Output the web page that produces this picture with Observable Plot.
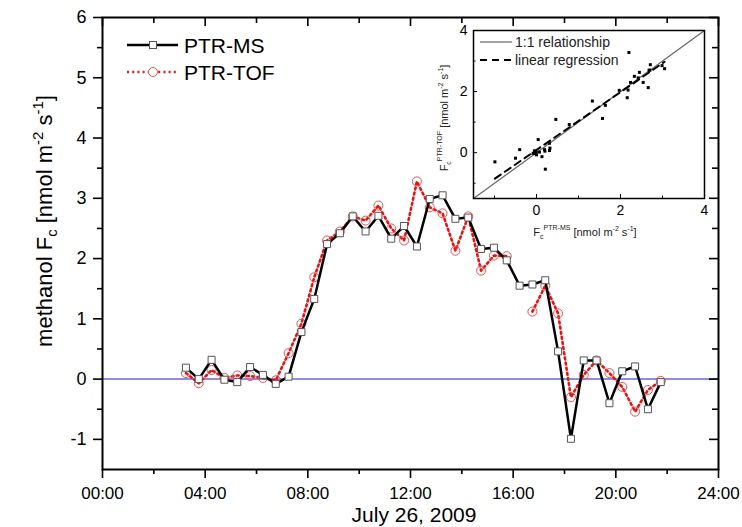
<!DOCTYPE html>
<html><head><meta charset="utf-8">
<script src="https://cdn.jsdelivr.net/npm/d3@7"></script>
<script src="https://cdn.jsdelivr.net/npm/@observablehq/plot@0.6"></script>
<style>
body{margin:0;background:white;}
#wrap{position:relative;width:742px;height:527px;overflow:hidden;}
</style></head><body><div id="wrap"></div>
<script>
// ---- data ----
const hours = [3.25,3.75,4.25,4.75,5.25,5.75,6.25,6.75,7.25,7.75,8.25,8.75,9.25,9.75,10.25,10.75,11.25,11.75,12.25,12.75,13.25,13.75,14.25,14.75,15.25,15.75,16.25,16.75,17.25,17.75,18.25,18.75,19.25,19.75,20.25,20.75,21.25,21.75];
const ptrMS = [0.19,0.00,0.32,-0.01,-0.05,0.20,0.07,-0.08,0.04,0.78,1.33,2.24,2.42,2.70,2.45,2.71,2.33,2.54,2.20,2.99,3.05,2.66,2.68,2.16,2.18,1.97,1.55,1.57,1.64,0.46,-0.99,0.31,0.31,-0.40,0.13,0.21,-0.50,-0.05];
const ptrTOF = [0.10,-0.07,0.15,0.02,0.06,0.05,0.02,-0.02,0.43,0.92,1.69,2.30,2.45,2.70,2.63,2.88,2.50,2.30,3.28,2.85,2.75,2.13,2.70,1.80,2.05,2.04,null,1.12,1.55,1.09,-0.30,0.07,0.31,0.10,-0.13,-0.54,-0.18,-0.03];
const xMajor = [0,4,8,12,16,20,24];
const xTickLabels = ["00:00","04:00","08:00","12:00","16:00","20:00","24:00"];
const xMinor = [2,6,10,14,18,22];
const yMajor = [-1,0,1,2,3,4,5,6];
const yTickLabels = ["-1","0","1","2","3","4","5","6"];
const yMinor = [-0.5,0.5,1.5,2.5,3.5,4.5,5.5];
const xDomain = [0,24];
const yDomain = [-1.5,6];
const insetDomain = [-1.5,4];
const insetMajor = [0,2,4];
const insetMinor = [-1,1,3];
const seriesNames = ["PTR-MS","PTR-TOF"];
const insetKeys = ["1:1 relationship","linear regression"];
const xLabel = "July 26, 2009";

const rows = hours.map((t,i)=>({t, ms: ptrMS[i], tof: ptrTOF[i]}));
const pairs = rows.filter(d => d.tof != null);

const FONT = "'Liberation Sans', Arial, Helvetica, sans-serif";
const wrap = document.getElementById("wrap");

// ---- main chart ----
const W=742,H=527,mL=102,mR=24,mT=17,mB=58;
const innerW = W-mL-mR, innerH = H-mT-mB;
const main = Plot.plot({
  width:W,height:H,marginLeft:mL,marginRight:mR,marginTop:mT,marginBottom:mB,
  style:{fontFamily:FONT, background:"white", color:"black", overflow:"visible"},
  x:{domain:xDomain}, y:{domain:yDomain},
  marks:[
    Plot.ruleY([0],{stroke:"#6464f4",strokeWidth:1.5}),
    Plot.line(rows,{x:"t",y:"tof",stroke:"#ee1111",strokeWidth:2.6,strokeDasharray:"2,3.2"}),
    Plot.dot(rows,{x:"t",y:"tof",r:4.5,stroke:"#ee5050",fill:"none",strokeWidth:1}),
    Plot.line(rows,{x:"t",y:"ms",stroke:"black",strokeWidth:2.5}),
    Plot.dot(rows,{x:"t",y:"ms",symbol:"square",r:3.95,fill:"white",stroke:"#555",strokeWidth:1}),
    Plot.axisX({ticks:xMajor,tickSize:9,tickPadding:8,fontSize:17,strokeWidth:1.6,label:null,
      tickFormat:d=>xTickLabels[xMajor.indexOf(d)]}),
    Plot.axisX({ticks:xMinor,tickSize:5,strokeWidth:1.6,label:null,tickFormat:()=>""}),
    Plot.axisY({ticks:yMajor,tickSize:9,tickPadding:7,fontSize:18,strokeWidth:1.6,label:null,
      tickFormat:d=>yTickLabels[yMajor.indexOf(d)]}),
    Plot.axisY({ticks:yMinor,tickSize:5,strokeWidth:1.6,label:null,tickFormat:()=>""}),
    // mirrored inward ticks (top / right)
    Plot.tickX(xMajor,{x:d=>d,insetBottom:innerH-9,stroke:"black",strokeWidth:1.6}),
    Plot.tickX(xMinor,{x:d=>d,insetBottom:innerH-6,stroke:"black",strokeWidth:1.6}),
    Plot.tickY(yMajor,{y:d=>d,insetLeft:innerW-9,stroke:"black",strokeWidth:1.6}),
    Plot.tickY(yMinor,{y:d=>d,insetLeft:innerW-6,stroke:"black",strokeWidth:1.6}),
    Plot.frame({stroke:"black",strokeWidth:2})
  ]
});
main.style.position="absolute"; main.style.left="0px"; main.style.top="0px";
wrap.appendChild(main);

const s = d3.select(main);
// y label
const yl = s.append("text").attr("transform","translate(52,221) rotate(-90)")
  .attr("text-anchor","middle").attr("font-size",22).attr("font-family",FONT).attr("fill","black");
yl.append("tspan").text("methanol F");
yl.append("tspan").attr("font-size",15).attr("dy",5).text("c");
yl.append("tspan").attr("dy",-5).text(" [nmol m");
yl.append("tspan").attr("font-size",15).attr("dy",-9).text("-2");
yl.append("tspan").attr("dy",9).text(" s");
yl.append("tspan").attr("font-size",15).attr("dy",-9).text("-1");
yl.append("tspan").attr("dy",9).text("]");
// x label
s.append("text").attr("x",414).attr("y",522).attr("text-anchor","middle")
  .attr("font-size",21).attr("font-family",FONT).attr("fill","black").text(xLabel);
// legend
const lg = s.append("g").attr("font-family",FONT).attr("font-size",21).attr("text-anchor","start");
lg.append("line").attr("x1",127).attr("x2",178).attr("y1",45).attr("y2",45).attr("stroke","black").attr("stroke-width",2.5);
lg.append("rect").attr("x",149.5).attr("y",41.5).attr("width",7).attr("height",7).attr("fill","white").attr("stroke","#555");
lg.append("text").attr("x",184).attr("y",45).attr("dy","0.36em").attr("text-anchor","start").text(seriesNames[0]);
lg.append("line").attr("x1",127).attr("x2",178).attr("y1",72).attr("y2",72).attr("stroke","#ee1111").attr("stroke-width",2.4).attr("stroke-dasharray","2,3.2");
lg.append("circle").attr("cx",153).attr("cy",72).attr("r",4.5).attr("fill","white").attr("stroke","#ee5050");
lg.append("text").attr("x",184).attr("y",72).attr("dy","0.36em").attr("text-anchor","start").text(seriesNames[1]);

// ---- inset ----
const iW=276,iH=223,iL=40,iR=5,iT=5,iB=50;
const iInW=iW-iL-iR, iInH=iH-iT-iB;
const inset = Plot.plot({
  width:iW,height:iH,marginLeft:iL,marginRight:iR,marginTop:iT,marginBottom:iB,
  style:{fontFamily:FONT, background:"transparent", color:"black", overflow:"visible"},
  x:{domain:insetDomain}, y:{domain:insetDomain},
  marks:[
    Plot.line(insetDomain,{x:d=>d,y:d=>d,stroke:"#666",strokeWidth:1.2}),
    Plot.linearRegressionY(pairs,{x:"ms",y:"tof",stroke:"black",strokeWidth:2,strokeDasharray:"7,5",ci:0}),
    Plot.dot(pairs,{x:"ms",y:"tof",symbol:"square",r:1.7,fill:"black"}),
    Plot.axisX({ticks:insetMajor,tickSize:0,tickPadding:7,fontSize:14,label:null,tickFormat:d=>String(d)}),
    Plot.axisY({ticks:insetMajor,tickSize:0,tickPadding:6,fontSize:14,label:null,tickFormat:d=>String(d)}),
    Plot.tickX(insetMajor,{x:d=>d,insetTop:iInH-4,stroke:"black"}),
    Plot.tickX(insetMinor,{x:d=>d,insetTop:iInH-2.5,stroke:"black"}),
    Plot.tickY(insetMajor,{y:d=>d,insetRight:iInW-4,stroke:"black"}),
    Plot.tickY(insetMinor,{y:d=>d,insetRight:iInW-2.5,stroke:"black"}),
    Plot.frame({stroke:"black",strokeWidth:1.5})
  ]
});
inset.style.position="absolute"; inset.style.left="433px"; inset.style.top="25px";
wrap.appendChild(inset);
const si = d3.select(inset);
// inset x label
const ixl = si.append("text").attr("x",152).attr("y",211).attr("text-anchor","middle")
  .attr("font-size",11).attr("font-family",FONT).attr("fill","#222");
ixl.append("tspan").text("F");
ixl.append("tspan").attr("font-size",7).attr("dy",3).text("c");
ixl.append("tspan").attr("font-size",7).attr("dy",-9).text("PTR-MS");
ixl.append("tspan").attr("dy",6).text(" [nmol m");
ixl.append("tspan").attr("font-size",7).attr("dy",-5).text("-2");
ixl.append("tspan").attr("dy",5).text(" s");
ixl.append("tspan").attr("font-size",7).attr("dy",-5).text("-1");
ixl.append("tspan").attr("dy",5).text("]");
// inset y label
const iyl = si.append("text").attr("transform","translate(15,93) rotate(-90)").attr("text-anchor","middle")
  .attr("font-size",11).attr("font-family",FONT).attr("fill","#222");
iyl.append("tspan").text("F");
iyl.append("tspan").attr("font-size",7).attr("dy",3).text("c");
iyl.append("tspan").attr("font-size",7).attr("dy",-9).text("PTR-TOF");
iyl.append("tspan").attr("dy",6).text(" [nmol m");
iyl.append("tspan").attr("font-size",7).attr("dy",-5).text("-2");
iyl.append("tspan").attr("dy",5).text(" s");
iyl.append("tspan").attr("font-size",7).attr("dy",-5).text("-1");
iyl.append("tspan").attr("dy",5).text("]");
// inset legend
const il = si.append("g").attr("font-family",FONT).attr("font-size",14).attr("fill","#222").attr("text-anchor","start");
il.append("line").attr("x1",47).attr("x2",79).attr("y1",17).attr("y2",17).attr("stroke","#666").attr("stroke-width",1.2);
il.append("text").attr("x",82).attr("y",17).attr("dy","0.36em").attr("text-anchor","start").text(insetKeys[0]);
il.append("line").attr("x1",47).attr("x2",79).attr("y1",35).attr("y2",35).attr("stroke","black").attr("stroke-width",2).attr("stroke-dasharray","7,5");
il.append("text").attr("x",82).attr("y",35).attr("dy","0.36em").attr("text-anchor","start").text(insetKeys[1]);
</script>
</body></html>
